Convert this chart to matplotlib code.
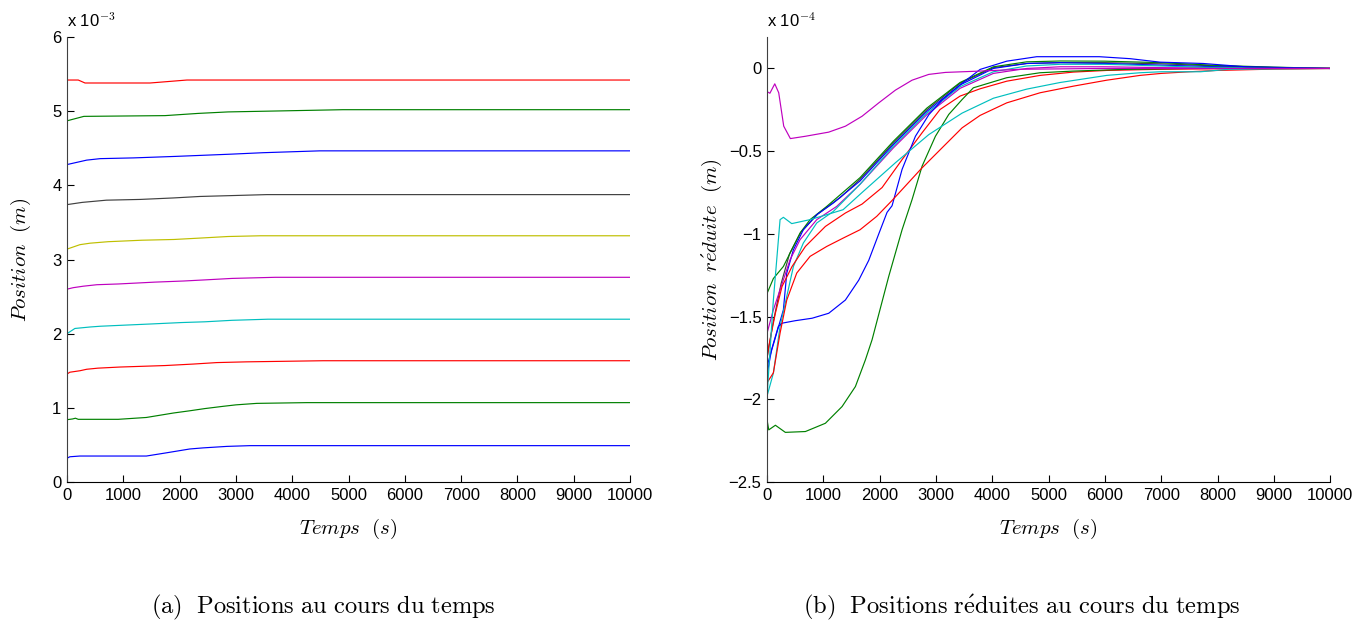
import matplotlib
matplotlib.use("Agg")
import matplotlib.pyplot as plt

plt.rcParams['font.family'] = ['Liberation Sans', 'DejaVu Sans']
plt.rcParams['mathtext.fontset'] = 'cm'

# MATLAB default line colours
colors = {'b': (0, 0, 1), 'g': (0, 0.5, 0), 'r': (1, 0, 0), 'c': (0, 0.75, 0.75),
          'm': (0.75, 0, 0.75), 'y': (0.75, 0.75, 0), 'k': (0.25, 0.25, 0.25)}

# ---- (a) positions, in units of 1e-3 m ----
left_colors = ['b', 'g', 'r', 'c', 'm', 'y', 'k', 'b', 'g', 'r']
left_t = [
    [0, 50, 230, 1410, 1740, 1980, 2180, 2420, 2840, 3250, 10000],
    [0, 100, 150, 200, 910, 1410, 1650, 1890, 2180, 2450, 2770, 3000, 3370, 4260, 10000],
    [0, 50, 230, 350, 550, 940, 1740, 2240, 2660, 3190, 4550, 10000],
    [0, 140, 410, 590, 880, 1470, 2040, 2450, 2930, 3570, 10000],
    [0, 110, 290, 530, 910, 1560, 2070, 2450, 2930, 3700, 10000],
    [0, 230, 410, 730, 1330, 1900, 2390, 2860, 3440, 10000],
    [0, 270, 700, 1300, 1890, 2360, 2840, 3550, 10000],
    [0, 350, 590, 1180, 1920, 2900, 3480, 4490, 10000],
    [0, 300, 1740, 2330, 2860, 3550, 4900, 10000],
    [0, 200, 320, 1475, 2130, 10000],
]
left_v = [
    [0.32, 0.34, 0.35, 0.35, 0.39, 0.42, 0.445, 0.46, 0.48, 0.49, 0.49],
    [0.84, 0.85, 0.86, 0.845, 0.845, 0.87, 0.90, 0.93, 0.96, 0.99, 1.02, 1.04, 1.06, 1.07, 1.07],
    [1.455, 1.48, 1.50, 1.52, 1.535, 1.55, 1.57, 1.59, 1.61, 1.62, 1.635, 1.635],
    [2.00, 2.07, 2.09, 2.10, 2.11, 2.13, 2.15, 2.16, 2.18, 2.195, 2.195],
    [2.60, 2.62, 2.64, 2.66, 2.67, 2.695, 2.71, 2.725, 2.745, 2.76, 2.76],
    [3.14, 3.20, 3.22, 3.24, 3.26, 3.27, 3.29, 3.31, 3.32, 3.32],
    [3.74, 3.77, 3.80, 3.81, 3.83, 3.85, 3.86, 3.875, 3.875],
    [4.28, 4.34, 4.36, 4.37, 4.39, 4.42, 4.44, 4.465, 4.465],
    [4.87, 4.93, 4.94, 4.97, 4.99, 5.00, 5.02, 5.02],
    [5.42, 5.42, 5.38, 5.38, 5.42, 5.42],
]

# ---- (b) reduced positions, in units of 1e-4 m ----
right_colors = ['k', 'g', 'b', 'm', 'c', 'r', 'b', 'g', 'r', 'c', 'm']
right_t = [
    # k (bundle)
    [0, 100, 250, 400, 600, 900, 1300, 1652, 2244, 2837, 3428, 4020, 4612, 5204, 6000, 7000, 8000, 9000, 10000],
    # g (bundle)
    [0, 112, 290, 409, 586, 764, 1060, 1652, 2244, 2837, 3428, 4020, 4612, 5204, 6000, 7000, 8000, 9000, 10000],
    # b (bundle)
    [0, 50, 171, 290, 350, 468, 645, 883, 1178, 1652, 2244, 2837, 3428, 4020, 4612, 5204, 6000, 7000, 8000, 9000, 10000],
    # m (bundle)
    [0, 112, 231, 409, 586, 883, 1237, 1652, 2244, 2837, 3428, 4020, 4612, 5204, 6000, 7000, 8000, 10000],
    # c (steep, bundle)
    [0, 112, 231, 350, 468, 645, 883, 1178, 1652, 2244, 2837, 3428, 4020, 4612, 5204, 6000, 7000, 8000, 10000],
    # r (bundle)
    [0, 30, 148, 266, 444, 681, 1036, 1391, 1687, 2043, 2398, 2753, 3073, 3428, 3783, 4257, 4849, 5441, 6033, 7000, 8000, 10000],
    # b (plateau)
    [0, 80, 200, 266, 500, 800, 1095, 1391, 1628, 1806, 1984, 2131, 2220, 2398, 2635, 2872, 3110, 3464, 3783, 4257, 4790, 5900, 6450, 6980, 7745, 8500, 10000],
    # g (lowest)
    [0, 30, 148, 325, 681, 1036, 1332, 1569, 1746, 1865, 2161, 2398, 2575, 2753, 2990, 3227, 3464, 3664, 4257, 4849, 5435, 6323, 7500, 10000],
    # r (lower)
    [0, 112, 231, 350, 527, 764, 1060, 1355, 1652, 1948, 2215, 2741, 3108, 3464, 3783, 4257, 4849, 5441, 6033, 6625, 7000, 7500, 8000, 9000, 10000],
    # c (bump)
    [0, 112, 231, 290, 438, 764, 1060, 1350, 1687, 2280, 2872, 3464, 4020, 4612, 5204, 6033, 6625, 7000, 7700, 8200, 10000],
    # m (top)
    [0, 50, 137, 207, 296, 414, 681, 1095, 1392, 1687, 1984, 2280, 2575, 2872, 3168, 3783, 4500, 6000, 10000],
]
right_v = [
    [-1.75, -1.55, -1.30, -1.12, -0.99, -0.88, -0.78, -0.67, -0.45, -0.25, -0.09, 0.005, 0.03, 0.035, 0.035, 0.028, 0.015, 0.005, 0.0],
    [-1.36, -1.27, -1.197, -1.116, -0.995, -0.914, -0.834, -0.66, -0.44, -0.24, -0.085, 0.01, 0.04, 0.045, 0.044, 0.035, 0.018, 0.008, 0.0],
    [-1.80, -1.74, -1.60, -1.459, -1.237, -1.096, -0.975, -0.884, -0.813, -0.68, -0.46, -0.26, -0.10, 0.0, 0.03, 0.035, 0.03, 0.02, 0.01, 0.003, 0.0],
    [-1.60, -1.459, -1.338, -1.156, -1.035, -0.914, -0.834, -0.70, -0.48, -0.28, -0.12, -0.03, 0.0, 0.01, 0.01, 0.005, 0.002, 0.0],
    [-1.98, -1.842, -1.56, -1.378, -1.197, -1.055, -0.934, -0.864, -0.70, -0.47, -0.27, -0.11, -0.02, 0.015, 0.025, 0.025, 0.015, 0.005, 0.0],
    [-1.75, -1.68, -1.479, -1.318, -1.197, -1.076, -0.955, -0.874, -0.82, -0.72, -0.551, -0.389, -0.248, -0.167, -0.123, -0.077, -0.042, -0.022, -0.012, -0.005, -0.002, 0.0],
    [-1.85, -1.70, -1.56, -1.54, -1.525, -1.51, -1.48, -1.40, -1.28, -1.16, -1.0, -0.87, -0.83, -0.61, -0.41, -0.28, -0.19, -0.09, -0.006, 0.044, 0.071, 0.071, 0.059, 0.038, 0.03, 0.01, 0.0],
    [-2.125, -2.185, -2.157, -2.20, -2.195, -2.145, -2.044, -1.923, -1.762, -1.64, -1.257, -0.975, -0.793, -0.591, -0.41, -0.278, -0.188, -0.117, -0.056, -0.026, -0.016, -0.006, 0.0, 0.0],
    [-1.90, -1.84, -1.60, -1.40, -1.237, -1.136, -1.076, -1.025, -0.975, -0.894, -0.80, -0.605, -0.48, -0.359, -0.284, -0.208, -0.147, -0.107, -0.071, -0.042, -0.03, -0.02, -0.012, -0.004, 0.0],
    [-1.98, -1.40, -0.914, -0.90, -0.938, -0.914, -0.884, -0.854, -0.75, -0.57, -0.40, -0.27, -0.18, -0.125, -0.085, -0.042, -0.026, -0.02, -0.02, -0.005, 0.0],
    [-0.14, -0.15, -0.093, -0.147, -0.349, -0.424, -0.41, -0.385, -0.349, -0.289, -0.208, -0.131, -0.071, -0.036, -0.024, -0.016, -0.005, 0.0, 0.0],
]

x_ticks = list(range(0, 10001, 1000))


def style_axes(ax):
    for side in ['top', 'right']:
        ax.spines[side].set_visible(False)
    ax.spines['left'].set_color('#404040')
    ax.spines['bottom'].set_color('black')
    ax.tick_params(direction='in', length=5, labelsize=12, width=0.8, pad=4)
    ax.set_xlim(0, 10000)
    ax.set_xticks(x_ticks)
    ax.set_xlabel(r'$Temps\ \ (s)$', fontsize=15, labelpad=10)


fig = plt.figure(figsize=(13.7, 6.2), dpi=100)

ax1 = fig.add_axes([0.0489, 0.2226, 0.411, 0.7177])
for c, t, v in zip(left_colors, left_t, left_v):
    ax1.plot(t, v, color=colors[c], lw=0.85)
style_axes(ax1)
ax1.set_ylim(0, 6)
ax1.set_yticks(range(0, 7))
ax1.set_ylabel(r'$Position\ \ (m)$', fontsize=15, labelpad=14)
ax1.text(0, 1.015, r'x 10$^{-3}$', transform=ax1.transAxes, fontsize=12, va='bottom')

ax2 = fig.add_axes([0.5599, 0.2226, 0.411, 0.7177])
for c, t, v in zip(right_colors, right_t, right_v):
    ax2.plot(t, v, color=colors[c], lw=0.85)
style_axes(ax2)
ax2.set_ylim(-2.5, 0.19)
ax2.set_yticks([0, -0.5, -1, -1.5, -2, -2.5])
ax2.set_yticklabels(['0', '\u22120.5', '\u22121', '\u22121.5', '\u22122', '\u22122.5'])
ax2.set_ylabel(r'$Position\ \ r\acute{e}duite\ \ (m)$', fontsize=15, labelpad=3)
ax2.text(0, 1.015, r'x 10$^{-4}$', transform=ax2.transAxes, fontsize=12, va='bottom')

fig.text(0.236, 0.011, r'$\mathrm{(a)\ \ Positions\ au\ cours\ du\ temps}$', fontsize=17.6, ha='center')
fig.text(0.746, 0.011, r'$\mathrm{(b)\ \ Positions\ r\acute{e}duites\ au\ cours\ du\ temps}$', fontsize=17.6, ha='center')

fig.savefig('out.png', dpi=100)
